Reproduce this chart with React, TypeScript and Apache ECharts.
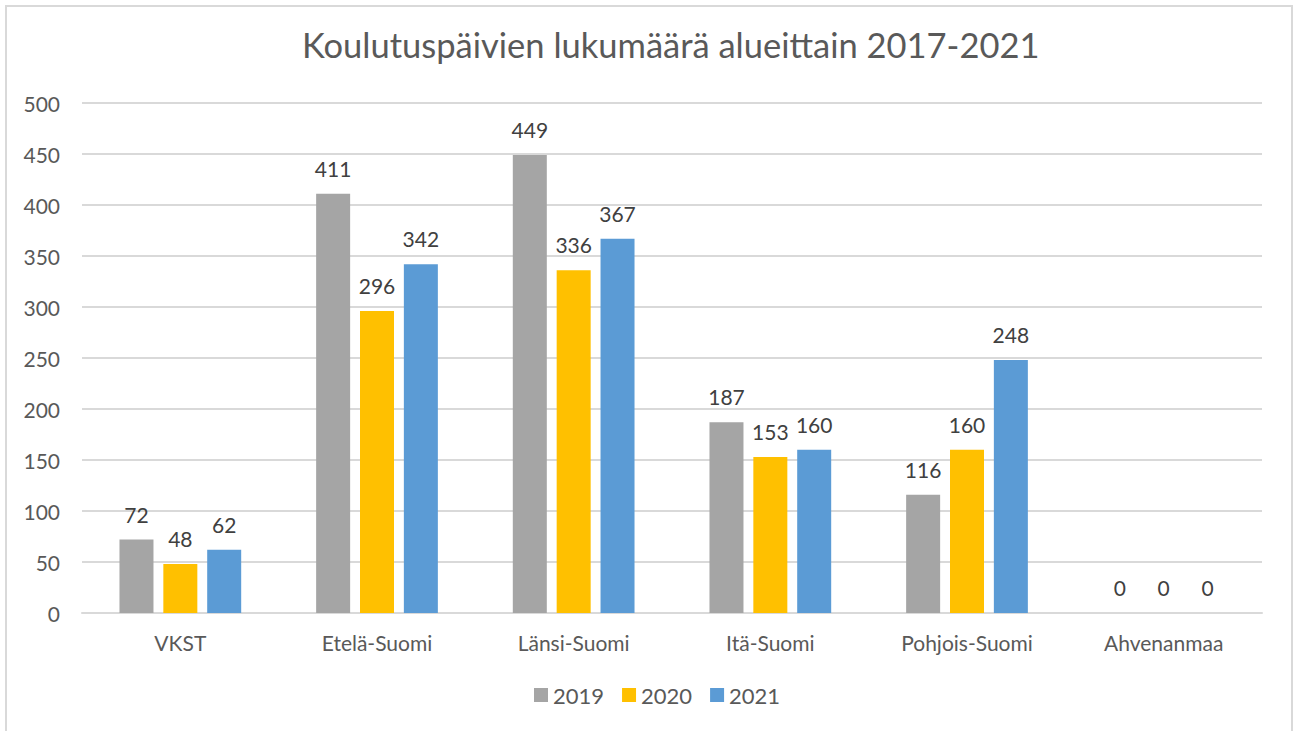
import React, { useEffect, useRef } from "react";
import * as echarts from "echarts";

const categories = ["VKST", "Etelä-Suomi", "Länsi-Suomi", "Itä-Suomi", "Pohjois-Suomi", "Ahvenanmaa"];
const seriesNames = ["2019", "2020", "2021"];
const values2019 = [72, 411, 449, 187, 116, 0];
const values2020 = [48, 296, 336, 153, 160, 0];
const values2021 = [62, 342, 367, 160, 248, 0];
const colors = ["#A5A5A5", "#FFC000", "#5B9BD5"];
const titleText = "Koulutuspäivien lukumäärä alueittain 2017-2021";

const FONT = "Lato, 'Open Sans', sans-serif";

export default function App() {
  const ref = useRef<HTMLDivElement>(null);
  useEffect(() => {
    if (!ref.current) return;
    const chart = echarts.init(ref.current, null, { renderer: "svg" });
    const data = [values2019, values2020, values2021];
    chart.setOption({
      animation: false,
      backgroundColor: "#ffffff",
      textStyle: { fontFamily: FONT },
      title: {
        text: titleText,
        left: 297,
        top: 22,
        textStyle: { fontFamily: FONT, fontSize: 34.5, fontWeight: "normal", color: "#595959" },
      },
      graphic: [
        {
          type: "rect",
          shape: { x: 6, y: 6, width: 1286, height: 740 },
          style: { fill: "none", stroke: "#D9D9D9", lineWidth: 2 },
          silent: true,
        },
      ],
      legend: {
        data: seriesNames,
        bottom: 20,
        left: 529,
        itemWidth: 14,
        itemHeight: 14,
        itemGap: 18,
        icon: "rect",
        textStyle: { fontFamily: FONT, fontSize: 22, color: "#595959" },
      },
      grid: { left: 82, right: 37, top: 103, bottom: 118 },
      xAxis: {
        type: "category",
        data: categories,
        axisLine: { lineStyle: { color: "#D9D9D9", width: 2 } },
        axisTick: { show: false },
        axisLabel: { fontFamily: FONT, fontSize: 21, color: "#595959", margin: 19 },
      },
      yAxis: {
        type: "value",
        min: 0,
        max: 500,
        interval: 50,
        axisLine: { show: false },
        axisTick: { show: false },
        splitLine: { lineStyle: { color: "#D9D9D9", width: 2 } },
        axisLabel: { fontFamily: FONT, fontSize: 21, color: "#595959", margin: 22 },
      },
      series: seriesNames.map((name, i) => ({
        name,
        type: "bar",
        data: data[i],
        barWidth: 34,
        barGap: "29%",
        itemStyle: { color: colors[i] },
        label: {
          show: true,
          position: "top",
          distance: 15,
          fontFamily: FONT,
          fontSize: 21,
          color: "#404040",
        },
      })),
    });
    return () => chart.dispose();
  }, []);
  return (
    <div
      ref={ref}
      style={{ position: "fixed", left: 0, top: 0, width: 1299, height: 731 }}
    />
  );
}
